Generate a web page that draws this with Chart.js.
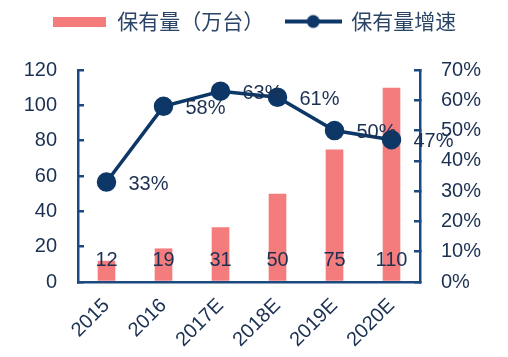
<!DOCTYPE html>
<html><head><meta charset="utf-8">
<script src="https://cdn.jsdelivr.net/npm/chart.js@4.4.1/dist/chart.umd.min.js"></script>
<style>html,body{margin:0;padding:0;background:#fff;}#wrap{width:508px;height:357px;}</style>
</head><body><div id="wrap"><canvas id="c" width="508" height="357"></canvas></div>
<script>
const categories = ['2015', '2016', '2017E', '2018E', '2019E', '2020E'];
const stockValues = [12, 19, 31, 50, 75, 110];
const growthValues = [33, 58, 63, 61, 50, 47];
const leftTicks = [0, 20, 40, 60, 80, 100, 120];
const rightTicks = [0, 10, 20, 30, 40, 50, 60, 70];
const seriesNames = ['保有量（万台）', '保有量增速'];

const BAR = '#f47c7c';
const LINE = '#0c3766';
const AXIS = '#1c4a80';
const TEXT = '#1c3152';
const LEGEND_TEXT = '#2a4566';
const NUM = '"Liberation Sans", Arial, sans-serif';
const CJK = '"Noto Sans CJK SC", "Liberation Sans", sans-serif';

function boxImage() {
  const c = document.createElement('canvas');
  c.width = 53; c.height = 10;
  const g = c.getContext('2d');
  g.fillStyle = BAR; g.fillRect(0, 0, 53, 10);
  return c;
}
function lineImage() {
  const c = document.createElement('canvas');
  c.width = 57; c.height = 16;
  const g = c.getContext('2d');
  g.strokeStyle = LINE; g.lineWidth = 4;
  g.beginPath(); g.moveTo(0, 8); g.lineTo(57, 8); g.stroke();
  g.fillStyle = LINE; g.beginPath(); g.arc(28.5, 8, 6.5, 0, Math.PI * 2); g.fill();
  return c;
}

const legendSpacer = {
  id: 'legendSpacer',
  beforeInit(chart) {
    const orig = chart.legend.fit;
    chart.legend.fit = function () { orig.call(this); this.height += 28; };
  }
};

const valueLabels = {
  id: 'valueLabels',
  afterDraw(chart) {
    const ctx = chart.ctx;
    ctx.save();
    ctx.font = '20px ' + NUM;
    ctx.fillStyle = TEXT;
    ctx.textBaseline = 'middle';
    const y0 = chart.scales.y.getPixelForValue(0);
    ctx.textAlign = 'center';
    chart.getDatasetMeta(0).data.forEach((el, i) => {
      ctx.fillText(String(stockValues[i]), el.x, y0 - 21.5);
    });
    ctx.textAlign = 'left';
    chart.getDatasetMeta(1).data.forEach((el, i) => {
      ctx.fillText(growthValues[i] + '%', el.x + 22, el.y + 2);
    });
    ctx.restore();
  }
};

new Chart(document.getElementById('c'), {
  type: 'bar',
  data: {
    labels: categories,
    datasets: [
      { type: 'bar', label: seriesNames[0], data: stockValues, backgroundColor: BAR,
        categoryPercentage: 1, barPercentage: 0.31, yAxisID: 'y', order: 1 },
      { type: 'line', label: seriesNames[1], data: growthValues, borderColor: LINE, backgroundColor: LINE,
        borderWidth: 3.5, pointRadius: 8, pointBackgroundColor: LINE, pointBorderColor: LINE,
        yAxisID: 'y1', order: 0, tension: 0, clip: false }
    ]
  },
  options: {
    responsive: false,
    animation: false,
    devicePixelRatio: 1,
    layout: { padding: 0 },
    plugins: {
      tooltip: { enabled: false },
      legend: {
        position: 'top',
        labels: {
          font: { size: 21, family: CJK },
          color: LEGEND_TEXT,
          padding: 11,
          usePointStyle: true,
          pointStyleWidth: 55,
          boxHeight: 21,
          generateLabels() {
            return [
              { text: seriesNames[0] + '　', pointStyle: boxImage(), fillStyle: BAR, strokeStyle: BAR, lineWidth: 0, datasetIndex: 0, fontColor: LEGEND_TEXT },
              { text: seriesNames[1], pointStyle: lineImage(), fillStyle: LINE, strokeStyle: LINE, lineWidth: 0, datasetIndex: 1, fontColor: LEGEND_TEXT }
            ];
          }
        }
      }
    },
    scales: {
      x: {
        offset: true,
        ticks: { color: TEXT, font: { size: 20, family: NUM }, minRotation: 45, maxRotation: 45, padding: 12 },
        grid: { display: true, drawOnChartArea: false, drawTicks: false },
        border: { display: true, color: AXIS, width: 2.5 },
        afterFit(s) { s.height = 75; }
      },
      y: {
        position: 'left',
        min: leftTicks[0], max: leftTicks[leftTicks.length - 1],
        ticks: { stepSize: leftTicks[1] - leftTicks[0], color: TEXT, font: { size: 20, family: NUM }, padding: 27 },
        grid: { display: true, drawOnChartArea: false, drawTicks: true, tickLength: -6, color: AXIS, lineWidth: 2.5 },
        border: { display: true, color: AXIS, width: 2.5 },
        afterFit(s) { s.width = 78; }
      },
      y1: {
        position: 'right',
        min: rightTicks[0], max: rightTicks[rightTicks.length - 1],
        ticks: { stepSize: rightTicks[1] - rightTicks[0], color: TEXT, font: { size: 20, family: NUM }, padding: 27,
          callback: v => v + '%' },
        grid: { display: true, drawOnChartArea: false, drawTicks: true, tickLength: -6, color: AXIS, lineWidth: 2.5 },
        border: { display: true, color: AXIS, width: 2.5 },
        afterFit(s) { s.width = 88; }
      }
    }
  },
  plugins: [legendSpacer, valueLabels]
});
</script></body></html>
